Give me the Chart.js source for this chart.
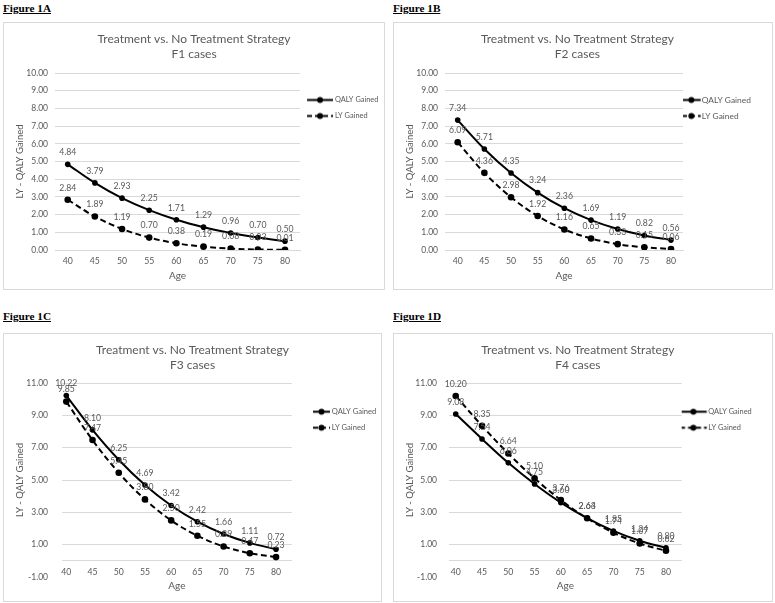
<!DOCTYPE html>
<html>
<head>
<meta charset="utf-8">
<script src="https://cdn.jsdelivr.net/npm/chart.js@4.4.0/dist/chart.umd.min.js"></script>
<style>
  html, body { margin: 0; padding: 0; background: #fff; }
  body { width: 775px; height: 603px; position: relative; overflow: hidden; }
  .figlabel { position: absolute; font-family: "Liberation Serif", "DejaVu Serif", serif; font-weight: bold;
              font-size: 11.2px; line-height: 1; text-decoration: underline; color: #000; }
  .box { position: absolute; border: 1px solid #d9d9d9; box-sizing: border-box; background: #fff; }
  .box canvas { position: absolute; left: 0; top: 0; }
</style>
</head>
<body>
<div class="figlabel" style="left:3px; top:3px;">Figure 1A</div>
<div class="figlabel" style="left:393px; top:3px;">Figure 1B</div>
<div class="figlabel" style="left:3px; top:310.5px;">Figure 1C</div>
<div class="figlabel" style="left:393px; top:310.5px;">Figure 1D</div>

<div class="box" style="left:3px; top:22px; width:382px; height:268px;"><canvas id="cA" width="380" height="266"></canvas></div>
<div class="box" style="left:393px; top:22px; width:380px; height:268px;"><canvas id="cB" width="378" height="266"></canvas></div>
<div class="box" style="left:3px; top:333px; width:379px; height:269px;"><canvas id="cC" width="377" height="267"></canvas></div>
<div class="box" style="left:393px; top:333px; width:380px; height:269px;"><canvas id="cD" width="378" height="267"></canvas></div>

<script>
// ---- Data ----
const ages = [40, 45, 50, 55, 60, 65, 70, 75, 80];

const qalyF1 = [4.84, 3.79, 2.93, 2.25, 1.71, 1.29, 0.96, 0.70, 0.50];
const lyF1   = [2.84, 1.89, 1.19, 0.70, 0.38, 0.19, 0.08, 0.03, 0.01];

const qalyF2 = [7.34, 5.71, 4.35, 3.24, 2.36, 1.69, 1.19, 0.82, 0.56];
const lyF2   = [6.09, 4.36, 2.98, 1.92, 1.16, 0.65, 0.33, 0.15, 0.06];

const qalyF3 = [10.22, 8.10, 6.25, 4.69, 3.42, 2.42, 1.66, 1.11, 0.72];
const lyF3   = [9.85, 7.47, 5.45, 3.80, 2.50, 1.55, 0.89, 0.47, 0.23];

const qalyF4 = [9.08, 7.54, 6.06, 4.75, 3.60, 2.64, 1.85, 1.24, 0.80];
const lyF4   = [10.20, 8.35, 6.64, 5.10, 3.76, 2.63, 1.74, 1.07, 0.62];

const titleLine1 = 'Treatment vs. No Treatment Strategy';
const subtitles = ['F1 cases', 'F2 cases', 'F3 cases', 'F4 cases'];
const seriesNames = ['QALY Gained', 'LY Gained'];
const yTitle = 'LY - QALY Gained';
const xTitle = 'Age';

// ---- Styling helpers ----
const FONT = 'Lato, "Open Sans", sans-serif';
const GRAY = '#595959';
const GRID = '#d9d9d9';

const measureCtx = document.createElement('canvas').getContext('2d');
function textWidth(txt, size) {
  measureCtx.font = size + 'px ' + FONT;
  return measureCtx.measureText(txt).width;
}

// legend icon: a line (solid or dashed) with a dot, drawn relative to the legend item's box
function legendIcon(dashed, bw, xa, xb) {
  const half = Math.ceil(Math.max(Math.abs(xa - bw / 2), Math.abs(xb - bw / 2))) + 2;
  const c = document.createElement('canvas');
  c.width = half * 2; c.height = 9;
  const ix = (x) => half + (x - bw / 2);
  const g = c.getContext('2d');
  g.strokeStyle = '#000'; g.lineWidth = 2;
  if (dashed) g.setLineDash([5, 3]);
  g.beginPath(); g.moveTo(ix(xa), 4.5); g.lineTo(ix(xb), 4.5); g.stroke();
  g.setLineDash([]);
  g.beginPath(); g.arc(ix((xa + xb) / 2), 4.5, 3, 0, Math.PI * 2); g.fillStyle = '#000'; g.fill();
  return c;
}

const valueLabels = {
  id: 'valueLabels',
  afterDatasetsDraw(chart) {
    const ctx = chart.ctx;
    ctx.save();
    ctx.font = '8.7px ' + FONT;
    ctx.fillStyle = GRAY;
    ctx.textAlign = 'center';
    ctx.textBaseline = 'middle';
    chart.data.datasets.forEach((ds, i) => {
      const meta = chart.getDatasetMeta(i);
      meta.data.forEach((pt, j) => {
        ctx.fillText(ds.data[j].y.toFixed(2), pt.x, pt.y - 12);
      });
    });
    ctx.restore();
  }
};

const toPoints = (vals) => ages.map((a, i) => ({ x: a, y: vals[i] }));

function makeChart(id, sub, qaly, ly, yMin, yMax, yStep, p) {
  const canvas = document.getElementById(id);
  // legend geometry
  const fs = p.legFont;
  const pad = 16 - fs;
  const itemLeft = p.plotRight + pad;
  const bw = p.textStart - fs / 2 - itemLeft;
  const legendW = pad + bw + fs / 2 + textWidth(seriesNames[0], fs) + 10;
  const padRight = Math.max(0, canvas.width - p.plotRight - legendW);
  const legTop = Math.max(0, p.legCenter - p.plotTop - 26.8 + fs / 2);
  const icons = [legendIcon(false, bw, p.lineStart - itemLeft, p.lineEnd - itemLeft),
                 legendIcon(true, bw, p.lineStart - itemLeft, p.lineEnd - itemLeft)];

  new Chart(canvas, {
    type: 'line',
    data: {
      datasets: [
        { label: seriesNames[0], data: toPoints(qaly), borderColor: '#000', backgroundColor: '#000',
          borderWidth: 2, tension: 0.35, pointRadius: 2.8, pointBackgroundColor: '#000',
          pointBorderWidth: 0, fill: false },
        { label: seriesNames[1], data: toPoints(ly), borderColor: '#000', backgroundColor: '#000',
          borderWidth: 2, borderDash: [6, 3.5], tension: 0.35, pointRadius: 3.3,
          pointBackgroundColor: '#000', pointBorderWidth: 0, fill: false }
      ]
    },
    options: {
      responsive: false,
      animation: false,
      devicePixelRatio: 1,
      layout: { padding: { top: 0, left: 0, right: padRight, bottom: p.padBottom } },
      plugins: {
        title: {
          display: true, text: [titleLine1, sub], color: GRAY,
          font: { family: FONT, size: 12, weight: 'normal', lineHeight: 1.25 },
          padding: { top: 8.5, bottom: p.plotTop - 38.5 }
        },
        legend: {
          display: true, position: 'right', align: 'start', fullSize: false,
          maxWidth: canvas.width - p.plotRight - padRight,
          title: { display: true, text: ' ', font: { family: FONT, size: 9, lineHeight: 1.2 },
                   padding: { top: legTop, bottom: 0 } },
          labels: {
            font: { family: FONT, size: fs }, color: GRAY, usePointStyle: true, pointStyleWidth: bw,
            padding: pad,
            generateLabels: (chart) => chart.data.datasets.map((ds, i) => ({
              text: ds.label, pointStyle: icons[i], fontColor: GRAY, datasetIndex: i,
              hidden: false, lineWidth: 0, strokeStyle: 'transparent', fillStyle: 'transparent'
            }))
          }
        },
        tooltip: { enabled: false }
      },
      scales: {
        x: {
          type: 'linear', position: { y: 0 }, min: p.xMin, max: p.xMax,
          afterBuildTicks: (s) => { s.ticks = ages.map(a => ({ value: a })); },
          grid: { display: false, drawTicks: false },
          border: { display: true, color: GRID, width: 1 },
          ticks: { color: GRAY, font: { family: FONT, size: 8.7 }, padding: 6, maxRotation: 0,
                   autoSkip: false, callback: (v) => String(v) },
          title: { display: true, text: xTitle, color: GRAY, font: { family: FONT, size: 10 },
                   padding: { top: -3, bottom: 2 } }
        },
        y: {
          min: yMin, max: yMax,
          ticks: { stepSize: yStep, color: GRAY, font: { family: FONT, size: 8.5 }, padding: p.yTickPad,
                   callback: (v) => Number(v).toFixed(2) },
          grid: { color: (c) => (c.tick && c.tick.value === -1) ? 'rgba(0,0,0,0)' : GRID,
                  drawTicks: false, lineWidth: 1 },
          border: { display: false },
          title: { display: true, text: yTitle, color: GRAY, font: { family: FONT, size: 9.5 },
                   padding: { top: 10, bottom: 0 } },
          afterFit: (s) => { s.width = p.yWidth; }
        }
      }
    },
    plugins: [valueLabels]
  });
}

makeChart('cA', subtitles[0], qalyF1, lyF1, 0, 10, 1,
  { padBottom: 39, plotTop: 50, yWidth: 51, yTickPad: 7, plotRight: 296, xMin: 37.66, xMax: 82.76,
    lineStart: 303, lineEnd: 329, textStart: 331, legFont: 7.4, legCenter: 77 });
makeChart('cB', subtitles[1], qalyF2, lyF2, 0, 10, 1,
  { padBottom: 39, plotTop: 50, yWidth: 51, yTickPad: 7, plotRight: 289, xMin: 37.62, xMax: 82.25,
    lineStart: 288, lineEnd: 306.7, textStart: 307.7, legFont: 8.4, legCenter: 77 });
makeChart('cC', subtitles[2], qalyF3, lyF3, -1, 11, 2,
  { padBottom: 24, plotTop: 49, yWidth: 58, yTickPad: 14, plotRight: 287.7, xMin: 39.18, xMax: 82.99,
    lineStart: 309, lineEnd: 326, textStart: 327.7, legFont: 7.6, legCenter: 77.7 });
makeChart('cD', subtitles[3], qalyF4, lyF4, -1, 11, 2,
  { padBottom: 24, plotTop: 49, yWidth: 55, yTickPad: 12, plotRight: 287.7, xMin: 38.72, xMax: 82.99,
    lineStart: 286, lineEnd: 312.7, textStart: 314.3, legFont: 7.4, legCenter: 77.7 });
</script>
</body>
</html>
